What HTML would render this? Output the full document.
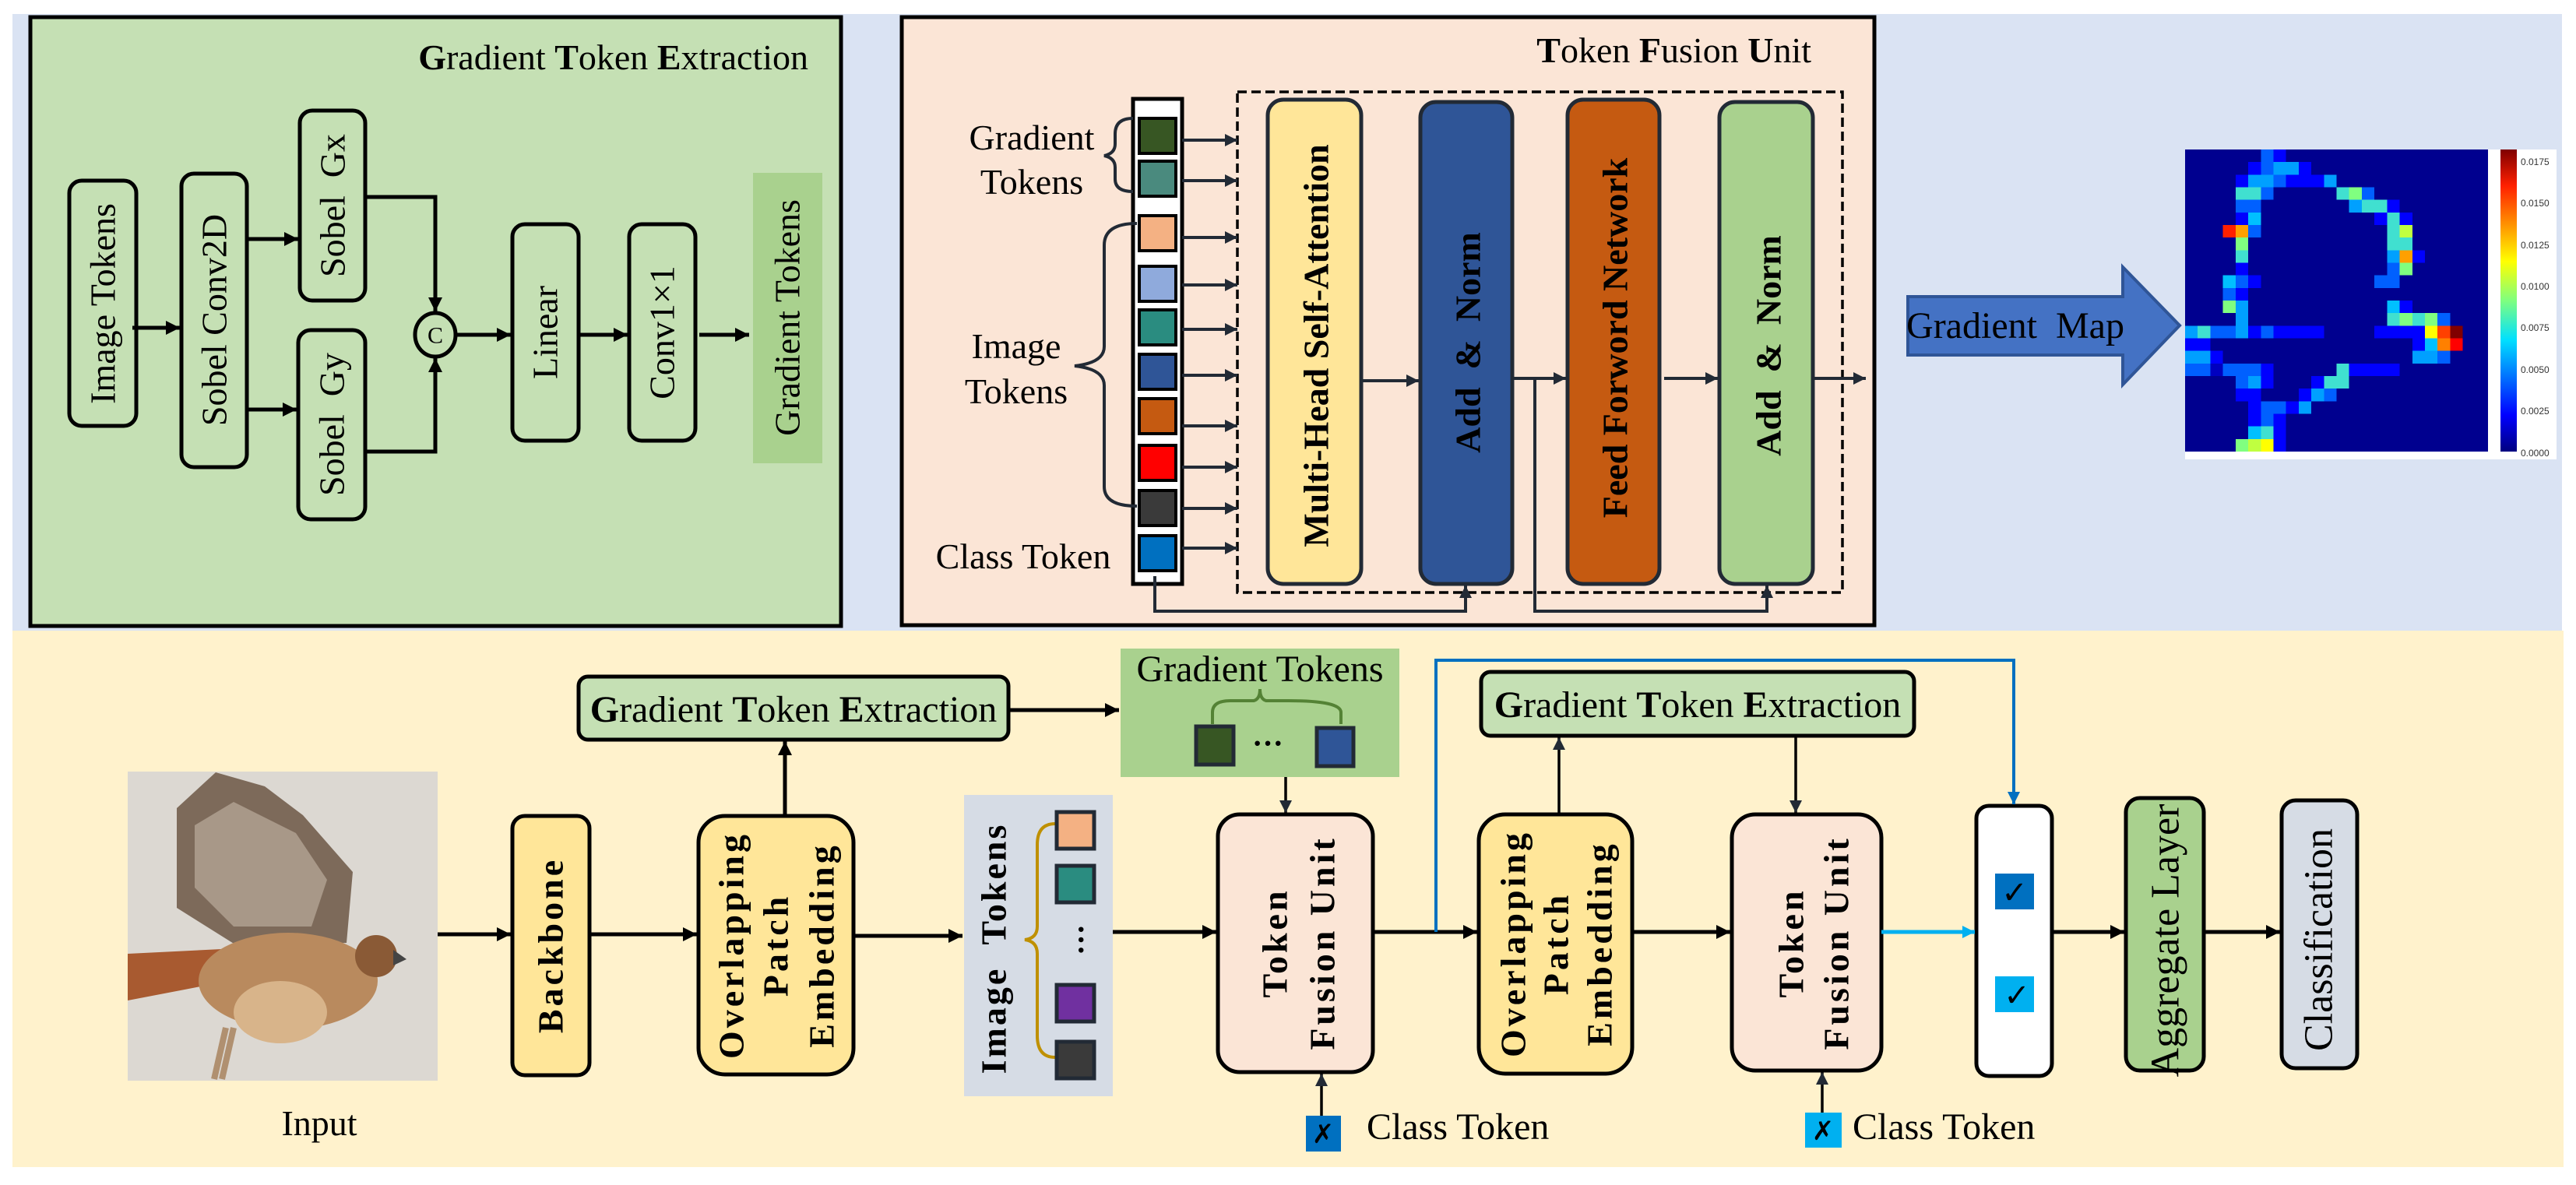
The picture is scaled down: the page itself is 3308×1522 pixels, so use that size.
<!DOCTYPE html>
<html><head><meta charset="utf-8"><style>
html,body{margin:0;padding:0;background:#fff;}
svg, svg text{font-family:"Liberation Serif","DejaVu Serif","Times New Roman",serif;}
svg text.sans{font-family:"Liberation Sans","DejaVu Sans",sans-serif;}
</style></head><body>
<svg width="3308" height="1517" viewBox="0 0 3308 1517" xmlns="http://www.w3.org/2000/svg" font-family="Liberation Serif, DejaVu Serif, serif">
<defs>
<marker id="k" viewBox="0 0 10 10" refX="10" refY="5" markerWidth="20" markerHeight="18" markerUnits="userSpaceOnUse" orient="auto"><path d="M0,0L10,5L0,10z" fill="#000"/></marker>
<marker id="d" viewBox="0 0 10 10" refX="10" refY="5" markerWidth="18" markerHeight="16" markerUnits="userSpaceOnUse" orient="auto"><path d="M0,0L10,5L0,10z" fill="#222a35"/></marker>
<marker id="b" viewBox="0 0 10 10" refX="10" refY="5" markerWidth="18" markerHeight="16" markerUnits="userSpaceOnUse" orient="auto"><path d="M0,0L10,5L0,10z" fill="#0070c0"/></marker>
<marker id="c" viewBox="0 0 10 10" refX="10" refY="5" markerWidth="18" markerHeight="16" markerUnits="userSpaceOnUse" orient="auto"><path d="M0,0L10,5L0,10z" fill="#00b0f0"/></marker>
<linearGradient id="jet" x1="0" y1="1" x2="0" y2="0">
<stop offset="0" stop-color="#00007f"/><stop offset="0.12" stop-color="#0000ff"/><stop offset="0.37" stop-color="#00e0ff"/><stop offset="0.5" stop-color="#7fff7f"/><stop offset="0.63" stop-color="#ffff00"/><stop offset="0.88" stop-color="#ff2000"/><stop offset="1" stop-color="#7f0000"/>
</linearGradient>
</defs>

<rect x="16" y="18" width="3274" height="792" fill="#dae3f3"/>
<rect x="16" y="810" width="3276" height="689" fill="#fff2cc"/>

<!-- Gradient Token Extraction panel -->
<rect x="39" y="22" width="1041" height="782" fill="#c5e0b4" stroke="#000" stroke-width="5"/>
<text x="1038" y="89" font-size="46" text-anchor="end"><tspan font-weight="bold">G</tspan>radient <tspan font-weight="bold">T</tspan>oken <tspan font-weight="bold">E</tspan>xtraction</text>
<g fill="none" stroke="#000" stroke-width="5">
<rect x="89" y="232" width="86" height="315" rx="16"/>
<rect x="233" y="223" width="84" height="377" rx="16"/>
<rect x="385" y="142" width="84" height="244" rx="16"/>
<rect x="383" y="424" width="86" height="243" rx="16"/>
<rect x="658" y="288" width="85" height="278" rx="16"/>
<rect x="808" y="288" width="85" height="278" rx="16"/>
<ellipse cx="559" cy="430" rx="26" ry="28"/>
</g>
<rect x="967" y="222" width="89" height="373" fill="#a9d18e"/>
<g stroke="#000" stroke-width="5" fill="none">
<line x1="170" y1="421" x2="231" y2="421" marker-end="url(#k)"/>
<line x1="317" y1="307" x2="383" y2="307" marker-end="url(#k)"/>
<line x1="317" y1="526" x2="381" y2="526" marker-end="url(#k)"/>
<polyline points="469,253 559,253 559,400" marker-end="url(#k)"/>
<polyline points="469,580 559,580 559,460" marker-end="url(#k)"/>
<line x1="585" y1="430" x2="656" y2="430" marker-end="url(#k)"/>
<line x1="743" y1="430" x2="806" y2="430" marker-end="url(#k)"/>
<line x1="898" y1="430" x2="962" y2="430" marker-end="url(#k)"/>
</g>
<text x="559" y="431" font-size="30" text-anchor="middle" dominant-baseline="central">C</text>
<g font-size="46" text-anchor="middle" dominant-baseline="central">
<text transform="translate(132,390) rotate(-90)">Image Tokens</text>
<text transform="translate(275,411) rotate(-90)">Sobel Conv2D</text>
<text transform="translate(427,264) rotate(-90)" xml:space="preserve">Sobel  Gx</text>
<text transform="translate(426,545) rotate(-90)" xml:space="preserve">Sobel  Gy</text>
<text transform="translate(700,427) rotate(-90)">Linear</text>
<text transform="translate(850,427) rotate(-90)">Conv1×1</text>
<text transform="translate(1011,408) rotate(-90)">Gradient Tokens</text>
</g>

<!-- Token Fusion Unit panel -->
<rect x="1158" y="22" width="1249" height="781" fill="#fbe5d6" stroke="#000" stroke-width="5"/>
<text x="2326" y="80" font-size="46" text-anchor="end"><tspan font-weight="bold">T</tspan>oken <tspan font-weight="bold">F</tspan>usion <tspan font-weight="bold">U</tspan>nit</text>
<rect x="1589" y="118" width="777" height="643" fill="none" stroke="#000" stroke-width="3.5" stroke-dasharray="12,6"/>
<rect x="1455" y="127" width="63" height="623" fill="#fff" stroke="#000" stroke-width="5"/>
<g stroke="#000" stroke-width="4">
<rect x="1463" y="152" width="47" height="45" fill="#375623"/>
<rect x="1463" y="207" width="47" height="45" fill="#4a8a7e"/>
<rect x="1463" y="277" width="47" height="45" fill="#f4b183"/>
<rect x="1463" y="342" width="47" height="45" fill="#8faadc"/>
<rect x="1463" y="398" width="47" height="45" fill="#2a8c80"/>
<rect x="1463" y="455" width="47" height="45" fill="#2f5597"/>
<rect x="1463" y="512" width="47" height="45" fill="#c55a11"/>
<rect x="1463" y="572" width="47" height="45" fill="#ff0000"/>
<rect x="1463" y="630" width="47" height="45" fill="#3a3a3a"/>
<rect x="1463" y="688" width="47" height="45" fill="#0070c0"/>
</g>
<g stroke="#222a35" stroke-width="4" fill="none">
<line x1="1518" y1="180" x2="1589" y2="180" marker-end="url(#d)"/>
<line x1="1518" y1="232" x2="1589" y2="232" marker-end="url(#d)"/>
<line x1="1518" y1="305" x2="1589" y2="305" marker-end="url(#d)"/>
<line x1="1518" y1="366" x2="1589" y2="366" marker-end="url(#d)"/>
<line x1="1518" y1="423" x2="1589" y2="423" marker-end="url(#d)"/>
<line x1="1518" y1="482" x2="1589" y2="482" marker-end="url(#d)"/>
<line x1="1518" y1="547" x2="1589" y2="547" marker-end="url(#d)"/>
<line x1="1518" y1="600" x2="1589" y2="600" marker-end="url(#d)"/>
<line x1="1518" y1="653" x2="1589" y2="653" marker-end="url(#d)"/>
<line x1="1518" y1="704" x2="1589" y2="704" marker-end="url(#d)"/>
<line x1="1748" y1="489" x2="1822" y2="489" marker-end="url(#d)"/>
<line x1="1942" y1="486" x2="2011" y2="486" marker-end="url(#d)"/>
<line x1="2137" y1="486" x2="2206" y2="486" marker-end="url(#d)"/>
<line x1="2328" y1="486" x2="2396" y2="486" marker-end="url(#d)"/>
<polyline points="1483,740 1483,785 1882,785 1882,752" marker-end="url(#d)"/>
<polyline points="1971,486 1971,785 2269,785 2269,752" marker-end="url(#d)"/>
</g>
<g stroke="#222a35" stroke-width="5">
<rect x="1628" y="128" width="120" height="622" rx="20" fill="#ffe699"/>
<rect x="1824" y="131" width="118" height="619" rx="20" fill="#2f5597"/>
<rect x="2013" y="128" width="118" height="622" rx="20" fill="#c55a11"/>
<rect x="2208" y="131" width="120" height="619" rx="20" fill="#a9d18e"/>
</g>
<g font-size="46" font-weight="bold" text-anchor="middle" dominant-baseline="central">
<text transform="translate(1690,444) rotate(-90)">Multi-Head Self-Attention</text>
<text transform="translate(1885,440) rotate(-90)" xml:space="preserve">Add  &amp;  Norm</text>
<text transform="translate(2074,434) rotate(-90)">Feed Forword Network</text>
<text transform="translate(2271,444) rotate(-90)" xml:space="preserve">Add  &amp;  Norm</text>
</g>
<g fill="none" stroke="#222a35" stroke-width="4">
<path d="M1455,152 Q1432,152 1432,172 L1432,185 Q1432,197 1418,200 Q1432,203 1432,215 L1432,230 Q1432,246 1455,246"/>
<path d="M1460,287 Q1418,287 1418,315 L1418,445 Q1418,466 1380,470 Q1418,474 1418,495 L1418,625 Q1418,650 1460,650"/>
</g>
<g font-size="46" text-anchor="middle">
<text x="1325" y="192">Gradient</text>
<text x="1325" y="249">Tokens</text>
<text x="1305" y="460">Image</text>
<text x="1305" y="518">Tokens</text>
<text x="1314" y="730">Class Token</text>
</g>

<!-- Gradient map -->
<path d="M2450,381 L2726,381 L2726,343 L2799,418 L2726,494 L2726,456 L2450,456 Z" fill="#4472c4" stroke="#2f5597" stroke-width="4"/>
<text x="2588" y="434" font-size="48" text-anchor="middle" xml:space="preserve">Gradient  Map</text>
<rect x="2806" y="192" width="477" height="398" fill="#fff"/>
<svg x="2806" y="192" width="389" height="388" viewBox="0 0 24 24" preserveAspectRatio="none">
<rect width="24" height="24" fill="#00008f"/>
<g shape-rendering="crispEdges">
<rect x="6" y="0" width="1" height="1" fill="#0060ff"/><rect x="7" y="0" width="1" height="1" fill="#0000ff"/>
<rect x="5" y="1" width="1" height="1" fill="#0000ff"/><rect x="6" y="1" width="1" height="1" fill="#0060ff"/><rect x="7" y="1" width="2" height="1" fill="#00a0ff"/><rect x="9" y="1" width="1" height="1" fill="#0000ff"/>
<rect x="4" y="2" width="1" height="1" fill="#0000ff"/><rect x="5" y="2" width="2" height="1" fill="#00a0ff"/><rect x="7" y="2" width="1" height="1" fill="#0060ff"/><rect x="8" y="2" width="3" height="1" fill="#0000ff"/><rect x="11" y="2" width="1" height="1" fill="#00a0ff"/>
<rect x="4" y="3" width="2" height="1" fill="#40e0d0"/><rect x="6" y="3" width="1" height="1" fill="#0060ff"/><rect x="12" y="3" width="1" height="1" fill="#40e0d0"/><rect x="13" y="3" width="1" height="1" fill="#80ff80"/><rect x="14" y="3" width="1" height="1" fill="#0060ff"/>
<rect x="4" y="4" width="2" height="1" fill="#0060ff"/><rect x="13" y="4" width="1" height="1" fill="#00a0ff"/><rect x="14" y="4" width="2" height="1" fill="#40e0d0"/><rect x="16" y="4" width="1" height="1" fill="#0000ff"/>
<rect x="4" y="5" width="1" height="1" fill="#0000ff"/><rect x="5" y="5" width="1" height="1" fill="#00c0ff"/><rect x="15" y="5" width="1" height="1" fill="#0000ff"/><rect x="16" y="5" width="1" height="1" fill="#40e0d0"/><rect x="17" y="5" width="1" height="1" fill="#0000ff"/>
<rect x="3" y="6" width="1" height="1" fill="#ff2000"/><rect x="4" y="6" width="1" height="1" fill="#ffa000"/><rect x="5" y="6" width="1" height="1" fill="#0060ff"/><rect x="16" y="6" width="1" height="1" fill="#40e0d0"/><rect x="17" y="6" width="1" height="1" fill="#c0ff40"/>
<rect x="4" y="7" width="1" height="1" fill="#80ff80"/><rect x="16" y="7" width="2" height="1" fill="#40e0d0"/>
<rect x="4" y="8" width="1" height="1" fill="#40e0d0"/><rect x="16" y="8" width="1" height="1" fill="#00a0ff"/><rect x="17" y="8" width="1" height="1" fill="#ffa000"/><rect x="18" y="8" width="1" height="1" fill="#0000ff"/>
<rect x="4" y="9" width="1" height="1" fill="#0000ff"/><rect x="16" y="9" width="1" height="1" fill="#0060ff"/><rect x="17" y="9" width="1" height="1" fill="#80ff80"/>
<rect x="3" y="10" width="1" height="1" fill="#00c0ff"/><rect x="4" y="10" width="1" height="1" fill="#0060ff"/><rect x="5" y="10" width="1" height="1" fill="#0000ff"/><rect x="15" y="10" width="2" height="1" fill="#0060ff"/>
<rect x="3" y="11" width="1" height="1" fill="#0060ff"/><rect x="4" y="11" width="1" height="1" fill="#0000ff"/>
<rect x="3" y="12" width="1" height="1" fill="#80ff80"/><rect x="4" y="12" width="1" height="1" fill="#00a0ff"/><rect x="16" y="12" width="1" height="1" fill="#00c0ff"/><rect x="17" y="12" width="1" height="1" fill="#0000ff"/>
<rect x="4" y="13" width="1" height="1" fill="#00a0ff"/><rect x="16" y="13" width="1" height="1" fill="#40e0d0"/><rect x="17" y="13" width="1" height="1" fill="#80ff80"/><rect x="18" y="13" width="1" height="1" fill="#40e0d0"/><rect x="19" y="13" width="1" height="1" fill="#80ff80"/><rect x="20" y="13" width="1" height="1" fill="#0060ff"/>
<rect x="0" y="14" width="1" height="1" fill="#00a0ff"/><rect x="1" y="14" width="1" height="1" fill="#40e0d0"/><rect x="2" y="14" width="2" height="1" fill="#0060ff"/><rect x="4" y="14" width="1" height="1" fill="#00a0ff"/><rect x="5" y="14" width="1" height="1" fill="#0000ff"/><rect x="6" y="14" width="1" height="1" fill="#0060ff"/><rect x="7" y="14" width="4" height="1" fill="#0000ff"/><rect x="15" y="14" width="4" height="1" fill="#0000ff"/><rect x="19" y="14" width="1" height="1" fill="#ffff00"/><rect x="20" y="14" width="1" height="1" fill="#ff4000"/><rect x="21" y="14" width="1" height="1" fill="#800000"/>
<rect x="0" y="15" width="2" height="1" fill="#0000ff"/><rect x="18" y="15" width="1" height="1" fill="#0000ff"/><rect x="19" y="15" width="1" height="1" fill="#00c0ff"/><rect x="20" y="15" width="1" height="1" fill="#ff8000"/><rect x="21" y="15" width="1" height="1" fill="#ff0000"/>
<rect x="0" y="16" width="2" height="1" fill="#00a0ff"/><rect x="2" y="16" width="1" height="1" fill="#0000ff"/><rect x="18" y="16" width="2" height="1" fill="#00a0ff"/><rect x="20" y="16" width="1" height="1" fill="#0060ff"/>
<rect x="0" y="17" width="2" height="1" fill="#0060ff"/><rect x="2" y="17" width="1" height="1" fill="#0000c0"/><rect x="3" y="17" width="3" height="1" fill="#0060ff"/><rect x="6" y="17" width="1" height="1" fill="#0000ff"/><rect x="12" y="17" width="1" height="1" fill="#40e0d0"/><rect x="13" y="17" width="4" height="1" fill="#0000ff"/>
<rect x="4" y="18" width="1" height="1" fill="#0060ff"/><rect x="5" y="18" width="1" height="1" fill="#00a0ff"/><rect x="6" y="18" width="1" height="1" fill="#0000ff"/><rect x="10" y="18" width="1" height="1" fill="#0000ff"/><rect x="11" y="18" width="2" height="1" fill="#40e0d0"/>
<rect x="4" y="19" width="2" height="1" fill="#0000ff"/><rect x="9" y="19" width="1" height="1" fill="#0000ff"/><rect x="10" y="19" width="1" height="1" fill="#00a0ff"/><rect x="11" y="19" width="1" height="1" fill="#0060ff"/>
<rect x="5" y="20" width="1" height="1" fill="#0000ff"/><rect x="6" y="20" width="2" height="1" fill="#0060ff"/><rect x="8" y="20" width="1" height="1" fill="#0000ff"/><rect x="9" y="20" width="1" height="1" fill="#00a0ff"/>
<rect x="5" y="21" width="1" height="1" fill="#0000ff"/><rect x="6" y="21" width="1" height="1" fill="#0060ff"/><rect x="7" y="21" width="1" height="1" fill="#0000ff"/>
<rect x="5" y="22" width="1" height="1" fill="#00c0ff"/><rect x="6" y="22" width="1" height="1" fill="#40e0d0"/><rect x="7" y="22" width="1" height="1" fill="#0000ff"/>
<rect x="4" y="23" width="1" height="1" fill="#80ff80"/><rect x="5" y="23" width="1" height="1" fill="#c0ff40"/><rect x="6" y="23" width="1" height="1" fill="#ffff00"/><rect x="7" y="23" width="1" height="1" fill="#0000ff"/>
</g>
</svg>
<rect x="3211" y="192" width="21" height="388" fill="url(#jet)"/>
<g font-size="12" fill="#333">
<text class="sans" x="3237" y="212">0.0175</text><text class="sans" x="3237" y="265">0.0150</text><text class="sans" x="3237" y="319">0.0125</text><text class="sans" x="3237" y="372">0.0100</text><text class="sans" x="3237" y="425">0.0075</text><text class="sans" x="3237" y="479">0.0050</text><text class="sans" x="3237" y="532">0.0025</text><text class="sans" x="3237" y="586">0.0000</text>
</g>

<!-- bird -->
<rect x="164" y="991" width="398" height="397" fill="#dcd8d2"/>
<polygon points="164,1225 305,1218 310,1257 164,1285" fill="#a85a30"/>
<polygon points="227,1038 277,992 340,1010 389,1047 453,1120 445,1211 305,1215 227,1166" fill="#7d6a5a"/>
<polygon points="250,1060 300,1030 380,1070 420,1130 400,1190 300,1190 250,1140" fill="#a89888"/>
<ellipse cx="370" cy="1260" rx="115" ry="62" fill="#b98a5e"/>
<ellipse cx="360" cy="1300" rx="60" ry="40" fill="#d8b48a"/>
<circle cx="483" cy="1228" r="27" fill="#8a5a36"/>
<polygon points="505,1220 522,1232 505,1240" fill="#444"/>
<path d="M290,1320 L275,1386 M300,1320 L285,1386" stroke="#b09070" stroke-width="8"/>
<text x="410" y="1458" font-size="46" text-anchor="middle">Input</text>

<g stroke="#000" stroke-width="5">
<rect x="658" y="1048" width="99" height="333" rx="16" fill="#ffe699"/>
<rect x="897" y="1048" width="199" height="332" rx="34" fill="#ffe699"/>
<rect x="743" y="869" width="552" height="81" rx="12" fill="#c5e0b4"/>
<rect x="1564" y="1046" width="199" height="331" rx="28" fill="#fbe5d6"/>
<rect x="1899" y="1046" width="197" height="333" rx="34" fill="#ffe699"/>
<rect x="1902" y="863" width="556" height="82" rx="12" fill="#c5e0b4"/>
<rect x="2224" y="1046" width="192" height="329" rx="30" fill="#fbe5d6"/>
<rect x="2538" y="1035" width="97" height="347" rx="16" fill="#fff"/>
<rect x="2730" y="1025" width="100" height="350" rx="18" fill="#a9d18e"/>
<rect x="2930" y="1028" width="97" height="344" rx="18" fill="#d6dce5"/>
</g>
<rect x="1238" y="1021" width="191" height="387" fill="#d6dce5"/>
<rect x="1439" y="833" width="358" height="165" fill="#a9d18e"/>

<g stroke="#000" stroke-width="5" fill="none">
<line x1="562" y1="1200" x2="656" y2="1200" marker-end="url(#k)"/>
<line x1="757" y1="1200" x2="895" y2="1200" marker-end="url(#k)"/>
<line x1="1096" y1="1202" x2="1236" y2="1202" marker-end="url(#k)"/>
<line x1="1008" y1="1048" x2="1008" y2="952" marker-end="url(#k)"/>
<line x1="1295" y1="912" x2="1437" y2="912" marker-end="url(#k)"/>
<line x1="1429" y1="1197" x2="1562" y2="1197" marker-end="url(#k)"/>
<line x1="1763" y1="1197" x2="1897" y2="1197" marker-end="url(#k)"/>
<line x1="2096" y1="1197" x2="2222" y2="1197" marker-end="url(#k)"/>
<line x1="2635" y1="1197" x2="2728" y2="1197" marker-end="url(#k)"/>
<line x1="2830" y1="1197" x2="2928" y2="1197" marker-end="url(#k)"/>
</g>
<g stroke="#000" stroke-width="3.5" fill="none">
<line x1="1651" y1="998" x2="1651" y2="1044" marker-end="url(#d)"/>
<line x1="2002" y1="1046" x2="2002" y2="947" marker-end="url(#d)"/>
<line x1="2306" y1="947" x2="2306" y2="1044" marker-end="url(#d)"/>
<line x1="1697" y1="1433" x2="1697" y2="1379" marker-end="url(#d)"/>
<line x1="2340" y1="1429" x2="2340" y2="1377" marker-end="url(#d)"/>
</g>
<polyline points="1844,1197 1844,848 2586,848 2586,1033" fill="none" stroke="#0070c0" stroke-width="4" marker-end="url(#b)"/>
<line x1="2416" y1="1197" x2="2536" y2="1197" stroke="#00b0f0" stroke-width="5" marker-end="url(#c)"/>

<text x="1019" y="927" font-size="48" text-anchor="middle"><tspan font-weight="bold">G</tspan>radient <tspan font-weight="bold">T</tspan>oken <tspan font-weight="bold">E</tspan>xtraction</text>
<text x="2180" y="921" font-size="48" text-anchor="middle"><tspan font-weight="bold">G</tspan>radient <tspan font-weight="bold">T</tspan>oken <tspan font-weight="bold">E</tspan>xtraction</text>
<text x="1618" y="875" font-size="48" text-anchor="middle">Gradient Tokens</text>
<path d="M1557,930 L1557,915 Q1557,900 1580,900 L1610,900 Q1618,898 1618,885 Q1618,898 1626,900 L1655,900 Q1722,900 1722,915 L1722,930" fill="none" stroke="#548235" stroke-width="4"/>
<rect x="1536" y="933" width="48" height="49" fill="#375623" stroke="#222a35" stroke-width="5"/>
<rect x="1691" y="935" width="47" height="49" fill="#2f5597" stroke="#222a35" stroke-width="5"/>
<text x="1628" y="968" font-size="40" font-weight="bold" text-anchor="middle">···</text>

<text transform="translate(1276,1218) rotate(-90)" font-size="46" font-weight="bold" text-anchor="middle" dominant-baseline="central" letter-spacing="3" xml:space="preserve">Image  Tokens</text>
<path d="M1355,1058 Q1332,1058 1332,1085 L1332,1190 Q1332,1205 1316,1207 Q1332,1209 1332,1225 L1332,1330 Q1332,1358 1355,1358" fill="none" stroke="#bf9000" stroke-width="4"/>
<g stroke="#222a35" stroke-width="5">
<rect x="1357" y="1043" width="48" height="47" fill="#f4b183"/>
<rect x="1357" y="1112" width="48" height="47" fill="#2a8c80"/>
<rect x="1357" y="1265" width="48" height="47" fill="#7030a0"/>
<rect x="1357" y="1338" width="48" height="47" fill="#3a3a3a"/>
</g>
<text transform="translate(1388,1207) rotate(-90)" font-size="40" font-weight="bold" text-anchor="middle" dominant-baseline="central">···</text>

<g font-size="46" font-weight="bold" text-anchor="middle" dominant-baseline="central" letter-spacing="4">
<text transform="translate(707,1214) rotate(-90)">Backbone</text>
<text transform="translate(939,1214) rotate(-90)">Overlapping</text>
<text transform="translate(996,1214) rotate(-90)">Patch</text>
<text transform="translate(1055,1214) rotate(-90)">Embedding</text>
<text transform="translate(1637,1211) rotate(-90)">Token</text>
<text transform="translate(1698,1211) rotate(-90)">Fusion Unit</text>
<text transform="translate(1943,1212) rotate(-90)">Overlapping</text>
<text transform="translate(1998,1212) rotate(-90)">Patch</text>
<text transform="translate(2054,1212) rotate(-90)">Embedding</text>
<text transform="translate(2300,1211) rotate(-90)">Token</text>
<text transform="translate(2358,1211) rotate(-90)">Fusion Unit</text>
</g>
<g font-size="52" text-anchor="middle" dominant-baseline="central">
<text transform="translate(2781,1208) rotate(-90)">Aggregate Layer</text>
<text transform="translate(2978,1207) rotate(-90)">Classification</text>
</g>

<rect x="2562" y="1122" width="50" height="46" fill="#0070c0"/>
<rect x="2562" y="1254" width="50" height="46" fill="#00b0f0"/>
<g font-size="40" text-anchor="middle">
<text x="2587" y="1160">✓</text>
<text x="2590" y="1292">✓</text>
</g>

<rect x="1677" y="1433" width="45" height="46" fill="#0070c0"/>
<rect x="2318" y="1429" width="47" height="45" fill="#00b0f0"/>
<g font-size="34" text-anchor="middle">
<text x="1699" y="1468">✗</text>
<text x="2341" y="1464">✗</text>
</g>
<text x="1755" y="1463" font-size="48">Class Token</text>
<text x="2379" y="1463" font-size="48">Class Token</text>
</svg>
</body></html>
